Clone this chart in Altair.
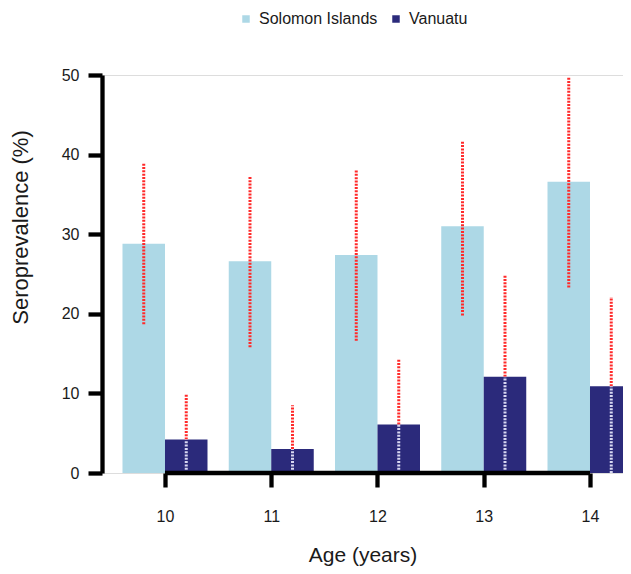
import altair as alt
import pandas as pd

ages = [10, 11, 12, 13, 14]
countries = ["Solomon Islands", "Vanuatu"]
solomon = [28.8, 26.6, 27.4, 31.0, 36.6]
solomon_lo = [18.7, 15.8, 16.6, 19.8, 23.3]
solomon_hi = [39.0, 37.3, 38.0, 41.7, 49.7]
vanuatu = [4.2, 3.0, 6.1, 12.1, 10.9]
vanuatu_lo = [0.0, 0.0, 0.0, 0.0, 0.0]
vanuatu_hi = [9.9, 8.5, 14.3, 24.9, 22.1]
colors = ["#add8e6", "#2b2a7b"]
y_ticks = [0, 10, 20, 30, 40, 50]

rows = []
for i, a in enumerate(ages):
    rows.append(dict(age=a, country=countries[0], side=-1,
                     value=solomon[i], lo=solomon_lo[i], hi=solomon_hi[i]))
    rows.append(dict(age=a, country=countries[1], side=1,
                     value=vanuatu[i], lo=vanuatu_lo[i], hi=vanuatu_hi[i]))
df = pd.DataFrame(rows)

axis_df = pd.DataFrame({"start": [ages[0]], "end": [ages[-1]], "base": [0]})

xscale = alt.Scale(domain=[9.4071, 14.3106], nice=False, zero=False)
yscale = alt.Scale(domain=[0, 50], nice=False)

base = alt.Chart(df).transform_calculate(
    x0="datum.side < 0 ? datum.age - 0.4 : datum.age",
    x1="datum.side < 0 ? datum.age : datum.age + 0.4",
    xc="datum.age + datum.side * 0.2",
    rs="datum.side < 0 ? datum.lo : datum.value",
    zero="0",
)

bars = base.mark_rect(clip=True).encode(
    x=alt.X("x0:Q", scale=xscale,
            axis=alt.Axis(values=ages, domain=False, grid=False, format="d",
                          tickSize=14, tickWidth=4.3, tickColor="black",
                          labelFontSize=16, labelPadding=21, labelBaseline="top",
                          labelColor="#1a1a1a",
                          title="Age (years)", titleFontSize=21,
                          titleFontWeight="normal", titleColor="#1a1a1a",
                          titleBaseline="middle", titleY=82)),
    x2="x1:Q",
    y=alt.Y("value:Q", scale=yscale,
            axis=alt.Axis(values=y_ticks, grid=False,
                          domainWidth=4.3, domainColor="black",
                          tickSize=14, tickWidth=4.3, tickColor="black",
                          labelFontSize=16, labelPadding=9, labelColor="#1a1a1a",
                          title="Seroprevalence (%)", titleFontSize=22,
                          titleFontWeight="normal", titleColor="#1a1a1a",
                          titleAngle=270, titleBaseline="middle", titleAlign="center",
                          titleX=-82, titleY=152)),
    y2="zero:Q",
    color=alt.Color("country:N",
                    scale=alt.Scale(domain=countries, range=colors),
                    legend=alt.Legend(orient="none", legendX=136, legendY=-64,
                                      direction="horizontal", title=None,
                                      symbolType="square", symbolSize=56,
                                      symbolStrokeWidth=0,
                                      labelFontSize=16, labelOffset=5,
                                      labelColor="#1a1a1a",
                                      columnPadding=10)),
)

red_err = base.mark_rule(color="#ff2a2a", strokeWidth=3,
                         strokeDash=[2, 1.3]).encode(
    x="xc:Q", y="rs:Q", y2="hi:Q")

light_err = base.transform_filter("datum.side > 0").mark_rule(
    color="#d8d8f2", strokeWidth=3, strokeDash=[2, 1.3]).encode(
    x="xc:Q", y="lo:Q", y2="value:Q")

x_line = alt.Chart(axis_df).mark_rule(color="black", strokeWidth=4.3).encode(
    x="start:Q", x2="end:Q", y="base:Q")

chart = alt.layer(bars, red_err, light_err, x_line).properties(
    width=521, height=398,
    padding={"left": 94, "top": 67, "right": 0, "bottom": 93},
    autosize=alt.AutoSizeParams(type="none"),
    background="white",
).configure_view(stroke=None).configure(font="Liberation Sans")

chart.save("out.html", embed_options={"renderer": "svg", "actions": False})
